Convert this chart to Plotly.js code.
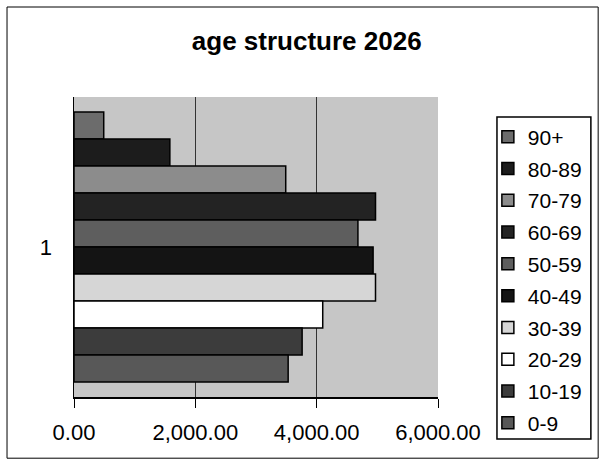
<!DOCTYPE html>
<html>
<head>
<meta charset="utf-8">
<script src="https://cdn.plot.ly/plotly-3.0.1.min.js"></script>
<style>html,body{margin:0;padding:0;background:#fff;}#chart{width:605px;height:469px;}</style>
</head>
<body>
<div id="chart"></div>
<script>
const categories = ['1'];
const seriesNames = ['90+','80-89','70-79','60-69','50-59','40-49','30-39','20-29','10-19','0-9'];
const seriesValues = [490, 1580, 3490, 4970, 4680, 4930, 4970, 4100, 3760, 3530];
const seriesColors = ['#6c6c6c','#1c1c1c','#8c8c8c','#232323','#5e5e5e','#141414','#d6d6d6','#ffffff','#3c3c3c','#585858'];
const xTicks = [0, 2000, 4000, 6000];

const traces = seriesNames.map((name, i) => ({
  type: 'bar',
  orientation: 'h',
  name: name,
  legendgroup: name,
  y: categories,
  x: [seriesValues[i]],
  marker: {color: seriesColors[i], line: {color: '#000', width: 1.5}},
  hoverinfo: 'x+name'
}));

const layout = {
  width: 605, height: 469,
  margin: {l: 74, r: 167, t: 97, b: 72},
  paper_bgcolor: '#ffffff',
  plot_bgcolor: '#c6c6c6',
  font: {family: 'Liberation Sans, Arial, sans-serif', color: '#000', size: 21},
  title: {text: '<b>age structure 2026</b>', font: {size: 26, family: 'Liberation Sans, Arial, sans-serif'}, x: 0.507, xanchor: 'center', y: 0.912, yanchor: 'middle'},
  barmode: 'group',
  bargap: 0.1,
  bargroupgap: 0,
  xaxis: {
    range: [0, 6000], tickvals: xTicks, tickformat: ',.2f',
    showgrid: true, gridcolor: '#333', gridwidth: 1,
    showline: true, linecolor: '#000', linewidth: 1.5,
    ticks: 'outside', ticklen: 9, tickcolor: '#000',
    ticklabelstandoff: 6,
    zeroline: false, fixedrange: true,
    tickfont: {size: 22}
  },
  yaxis: {
    type: 'category', categoryarray: categories, autorange: 'reversed',
    showline: true, linecolor: '#000', linewidth: 1.5,
    ticks: '', ticklabelstandoff: 16,
    showgrid: false, zeroline: false, fixedrange: true,
    tickfont: {size: 22}
  },
  legend: {
    x: 1.137, xanchor: 'left', y: 0.935, yanchor: 'top',
    traceorder: 'grouped', tracegroupgap: 1.5,
    bgcolor: 'rgba(0,0,0,0)', borderwidth: 0,
    font: {size: 21}, itemwidth: 30, maxheight: 460
  },
  shapes: [{
    type: 'rect', xref: 'paper', yref: 'paper',
    x0: -0.184, x1: 1.44, y0: -0.204, y1: 1.3,
    line: {color: '#000', width: 1}, fillcolor: 'rgba(0,0,0,0)', layer: 'below'
  }, {
    type: 'rect', xref: 'paper', yref: 'paper',
    x0: 1.162, x1: 1.420, y0: -0.14, y1: 0.933,
    line: {color: '#000', width: 1.5}, fillcolor: '#ffffff', layer: 'below'
  }]
};

Plotly.newPlot('chart', traces, layout, {displayModeBar: false, staticPlot: true});
</script>
</body>
</html>
